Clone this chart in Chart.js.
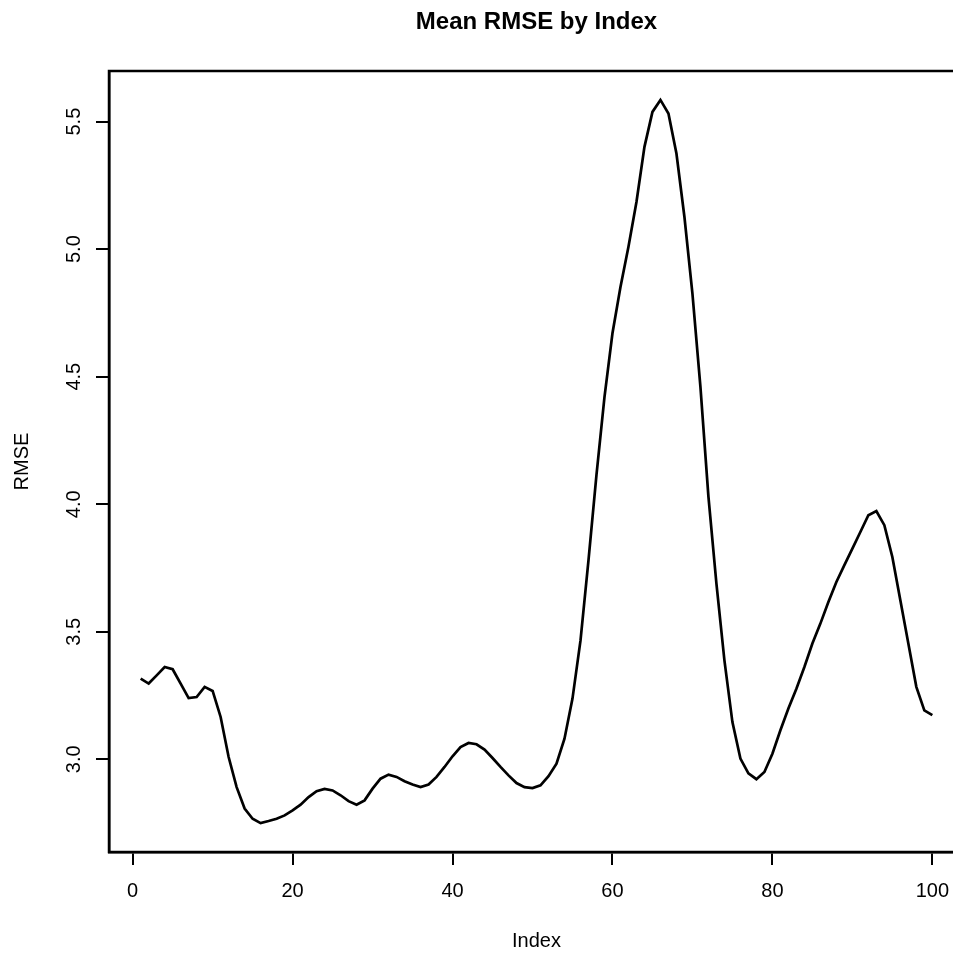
<!DOCTYPE html>
<html>
<head>
<meta charset="utf-8">
<script src="https://cdn.jsdelivr.net/npm/chart.js@4.4.1/dist/chart.umd.min.js"></script>
<style>
  html, body { margin: 0; padding: 0; background: #fff; overflow: hidden; }
  canvas { display: block; }
</style>
</head>
<body>
<canvas id="c" width="1073" height="953" style="width:1073px;height:953px"></canvas>
<script>
const chartTitle = "Mean RMSE by Index";
const xAxisLabel = "Index";
const yAxisLabel = "RMSE";
const indices = Array.from({length: 100}, (_, i) => i + 1);
const meanRmse = [
  3.316, 3.297, 3.329, 3.362, 3.353, 3.297, 3.240, 3.244, 3.284, 3.268,
  3.166, 3.009, 2.891, 2.807, 2.767, 2.750, 2.758, 2.767, 2.780, 2.800,
  2.822, 2.852, 2.875, 2.884, 2.878, 2.859, 2.836, 2.822, 2.839, 2.885,
  2.924, 2.940, 2.931, 2.914, 2.901, 2.891, 2.901, 2.931, 2.970, 3.012,
  3.048, 3.064, 3.059, 3.038, 3.005, 2.970, 2.937, 2.907, 2.891, 2.887,
  2.898, 2.934, 2.983, 3.081, 3.238, 3.465, 3.780, 4.115, 4.420, 4.670,
  4.852, 5.009, 5.185, 5.401, 5.538, 5.585, 5.532, 5.375, 5.126, 4.826,
  4.460, 4.030, 3.689, 3.388, 3.146, 3.003, 2.945, 2.922, 2.950, 3.022,
  3.114, 3.199, 3.277, 3.362, 3.454, 3.532, 3.617, 3.695, 3.761, 3.826,
  3.891, 3.957, 3.973, 3.918, 3.793, 3.624, 3.454, 3.284, 3.192, 3.173
];
const xTickStep = 20;
const yTickStep = 0.5;

// R-style 4% axis extension
const xr = [Math.min(...indices), Math.max(...indices)];
const yr = [Math.min(...meanRmse), Math.max(...meanRmse)];
const xPad = (xr[1] - xr[0]) * 0.04;
const yPad = (yr[1] - yr[0]) * 0.04;

const FONT = '"Liberation Sans", Arial, Helvetica, sans-serif';

const boxPlugin = {
  id: 'rbox',
  afterDraw(chart) {
    const {ctx, chartArea: a} = chart;
    ctx.save();
    ctx.strokeStyle = '#000';
    ctx.lineWidth = 2.5;
    ctx.strokeRect(a.left, a.top, a.right - a.left, a.bottom - a.top);
    ctx.restore();
  }
};

new Chart(document.getElementById('c'), {
  type: 'line',
  data: {
    datasets: [{
      data: indices.map((x, i) => ({x: x, y: meanRmse[i]})),
      borderColor: '#000',
      borderWidth: 2.7,
      pointRadius: 0,
      tension: 0,
      fill: false
    }]
  },
  options: {
    responsive: false,
    animation: false,
    devicePixelRatio: 1,
    layout: { padding: 0 },
    plugins: {
      legend: { display: false },
      tooltip: { enabled: false },
      title: {
        display: true,
        text: chartTitle,
        color: '#000',
        font: { family: FONT, size: 24, weight: 'bold' },
        padding: { top: 8, bottom: 34.2 }
      }
    },
    scales: {
      x: {
        type: 'linear',
        min: xr[0] - xPad,
        max: xr[1] + xPad,
        afterFit(s) { s.height = 101; },
        border: { display: true, color: '#000', width: 2.5 },
        grid: { display: true, drawOnChartArea: false, drawTicks: true, tickLength: 13, color: '#000', lineWidth: 2 },
        ticks: {
          stepSize: xTickStep,
          includeBounds: false,
          maxRotation: 0,
          autoSkip: false,
          padding: 14,
          color: '#000',
          font: { family: FONT, size: 20 },
          callback: v => String(v)
        },
        title: {
          display: true,
          text: xAxisLabel,
          color: '#000',
          font: { family: FONT, size: 20 },
          padding: { top: 0, bottom: 0 }
        }
      },
      y: {
        type: 'linear',
        min: yr[0] - yPad,
        max: yr[1] + yPad,
        afterFit(s) { s.width = 109; },
        border: { display: true, color: '#000', width: 2.5 },
        grid: { display: true, drawOnChartArea: false, drawTicks: true, tickLength: 13, color: '#000', lineWidth: 2 },
        ticks: {
          stepSize: yTickStep,
          includeBounds: false,
          minRotation: 90,
          maxRotation: 90,
          crossAlign: 'center',
          autoSkip: false,
          padding: 8,
          color: '#000',
          font: { family: FONT, size: 20 },
          callback: v => Number(v).toFixed(1)
        },
        title: {
          display: true,
          text: yAxisLabel,
          color: '#000',
          font: { family: FONT, size: 20 },
          padding: { top: 10, bottom: 0 }
        }
      },
      yRightMargin: {
        type: 'linear',
        position: 'right',
        display: true,
        afterFit(s) { s.width = 109; },
        border: { display: false },
        grid: { display: false },
        ticks: { display: false },
        title: { display: false }
      }
    }
  },
  plugins: [boxPlugin]
});
</script>
</body>
</html>
